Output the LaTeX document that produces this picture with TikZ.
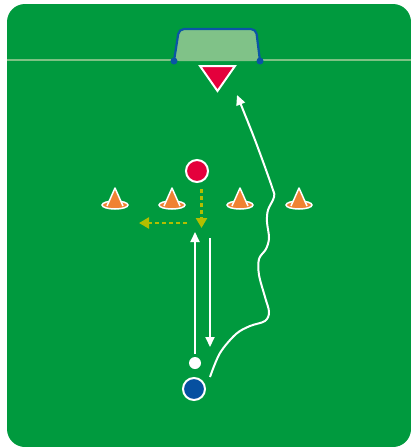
\documentclass[tikz,border=0pt]{standalone}
\usetikzlibrary{arrows.meta, positioning}
\definecolor{pitchgreen}{HTML}{009A3E}
\definecolor{linegreen}{HTML}{7DC284}
\definecolor{goalfill}{HTML}{80C288}
\definecolor{goalblue}{HTML}{0A55A5}
\definecolor{redplayer}{HTML}{E4003C}
\definecolor{blueplayer}{HTML}{0650A0}
\definecolor{conecol}{HTML}{F08232}
\definecolor{passcol}{HTML}{B2BE00}
\tikzset{
  cone/.pic={
    \filldraw[fill=conecol, draw=white, line width=1.5pt] (0,0) ellipse [x radius=13pt, y radius=4pt];
    \fill[conecol] (-8,1) -- (0,-17) -- (8,1) -- cycle;
    \draw[white, line width=1.5pt, line join=round] (-8,1) -- (0,-17) -- (8,1);
  }
}
\begin{document}
\begin{tikzpicture}[x=1pt, y=-1pt,
  player/.style={circle, draw=white, line width=2pt, minimum size=22pt, inner sep=0pt},
  ballnode/.style={circle, fill=white, minimum size=12pt, inner sep=0pt},
  run/.style={draw=white, line width=2pt, -{Triangle[length=10pt,width=9pt]}},
  pass/.style={draw=passcol, line width=2.8pt, dash pattern=on 4pt off 3pt, -{Triangle[length=10pt,width=11pt]}},
]
\useasboundingbox (0,0) rectangle (411,447);
%% Pitch
\fill[pitchgreen, rounded corners=18pt] (7,4) rectangle (411,447);
\draw[linegreen, line width=2pt] (7,60) -- (411,60);

%% Goal
\fill[goalfill, rounded corners=5pt] (174,61) -- (179,29) -- (256,29) -- (260,61) -- cycle;
\draw[goalblue, line width=2.2pt, rounded corners=5pt] (174,61) -- (179,29) -- (256,29) -- (260,61);
\fill[goalblue] (174,61) circle (3.5pt) (260,61) circle (3.5pt);
\filldraw[fill=redplayer, draw=white, line width=2pt] (200,66) -- (235,66) -- (217.5,91) -- cycle;

%% Cones
\foreach \cx [count=\i] in {115,172,240,299}
  \pic (cone\i) at (\cx,205) {cone};

%% Players
\node[player, fill=redplayer]  (defender) at (197,171) {};
\node[player, fill=blueplayer] (attacker) at (194,389) {};
\node[ballnode] (ball) at (195,363) {};

%% Run and pass ends
\coordinate (uptip)     at (195,232);
\coordinate (downstart) at (210,238);
\coordinate (downtip)   at (210,347);
\coordinate (passtop)   at (201.5,189);
\coordinate (passtip)   at (201.5,228);
\coordinate (lateral)   at (187,223);
\coordinate (lateraltip) at (139,223);

%% Movements
\draw[run, shorten <=3pt] (ball) -- (uptip);
\draw[run] (downstart) -- (downtip);
\draw[pass] (passtop) -- (passtip);
\draw[pass] (lateral) -- (lateraltip);
\draw[run] plot[smooth, tension=0.55] coordinates {(210,377) (220,353) (236,334) (250,326) (265,321) (269,312) (265,297) (259,275) (259,259) (266,249) (269,238) (267,222) (268,210) (274,197) (272,187) (255,140) (237,95)};
\end{tikzpicture}
\end{document}
